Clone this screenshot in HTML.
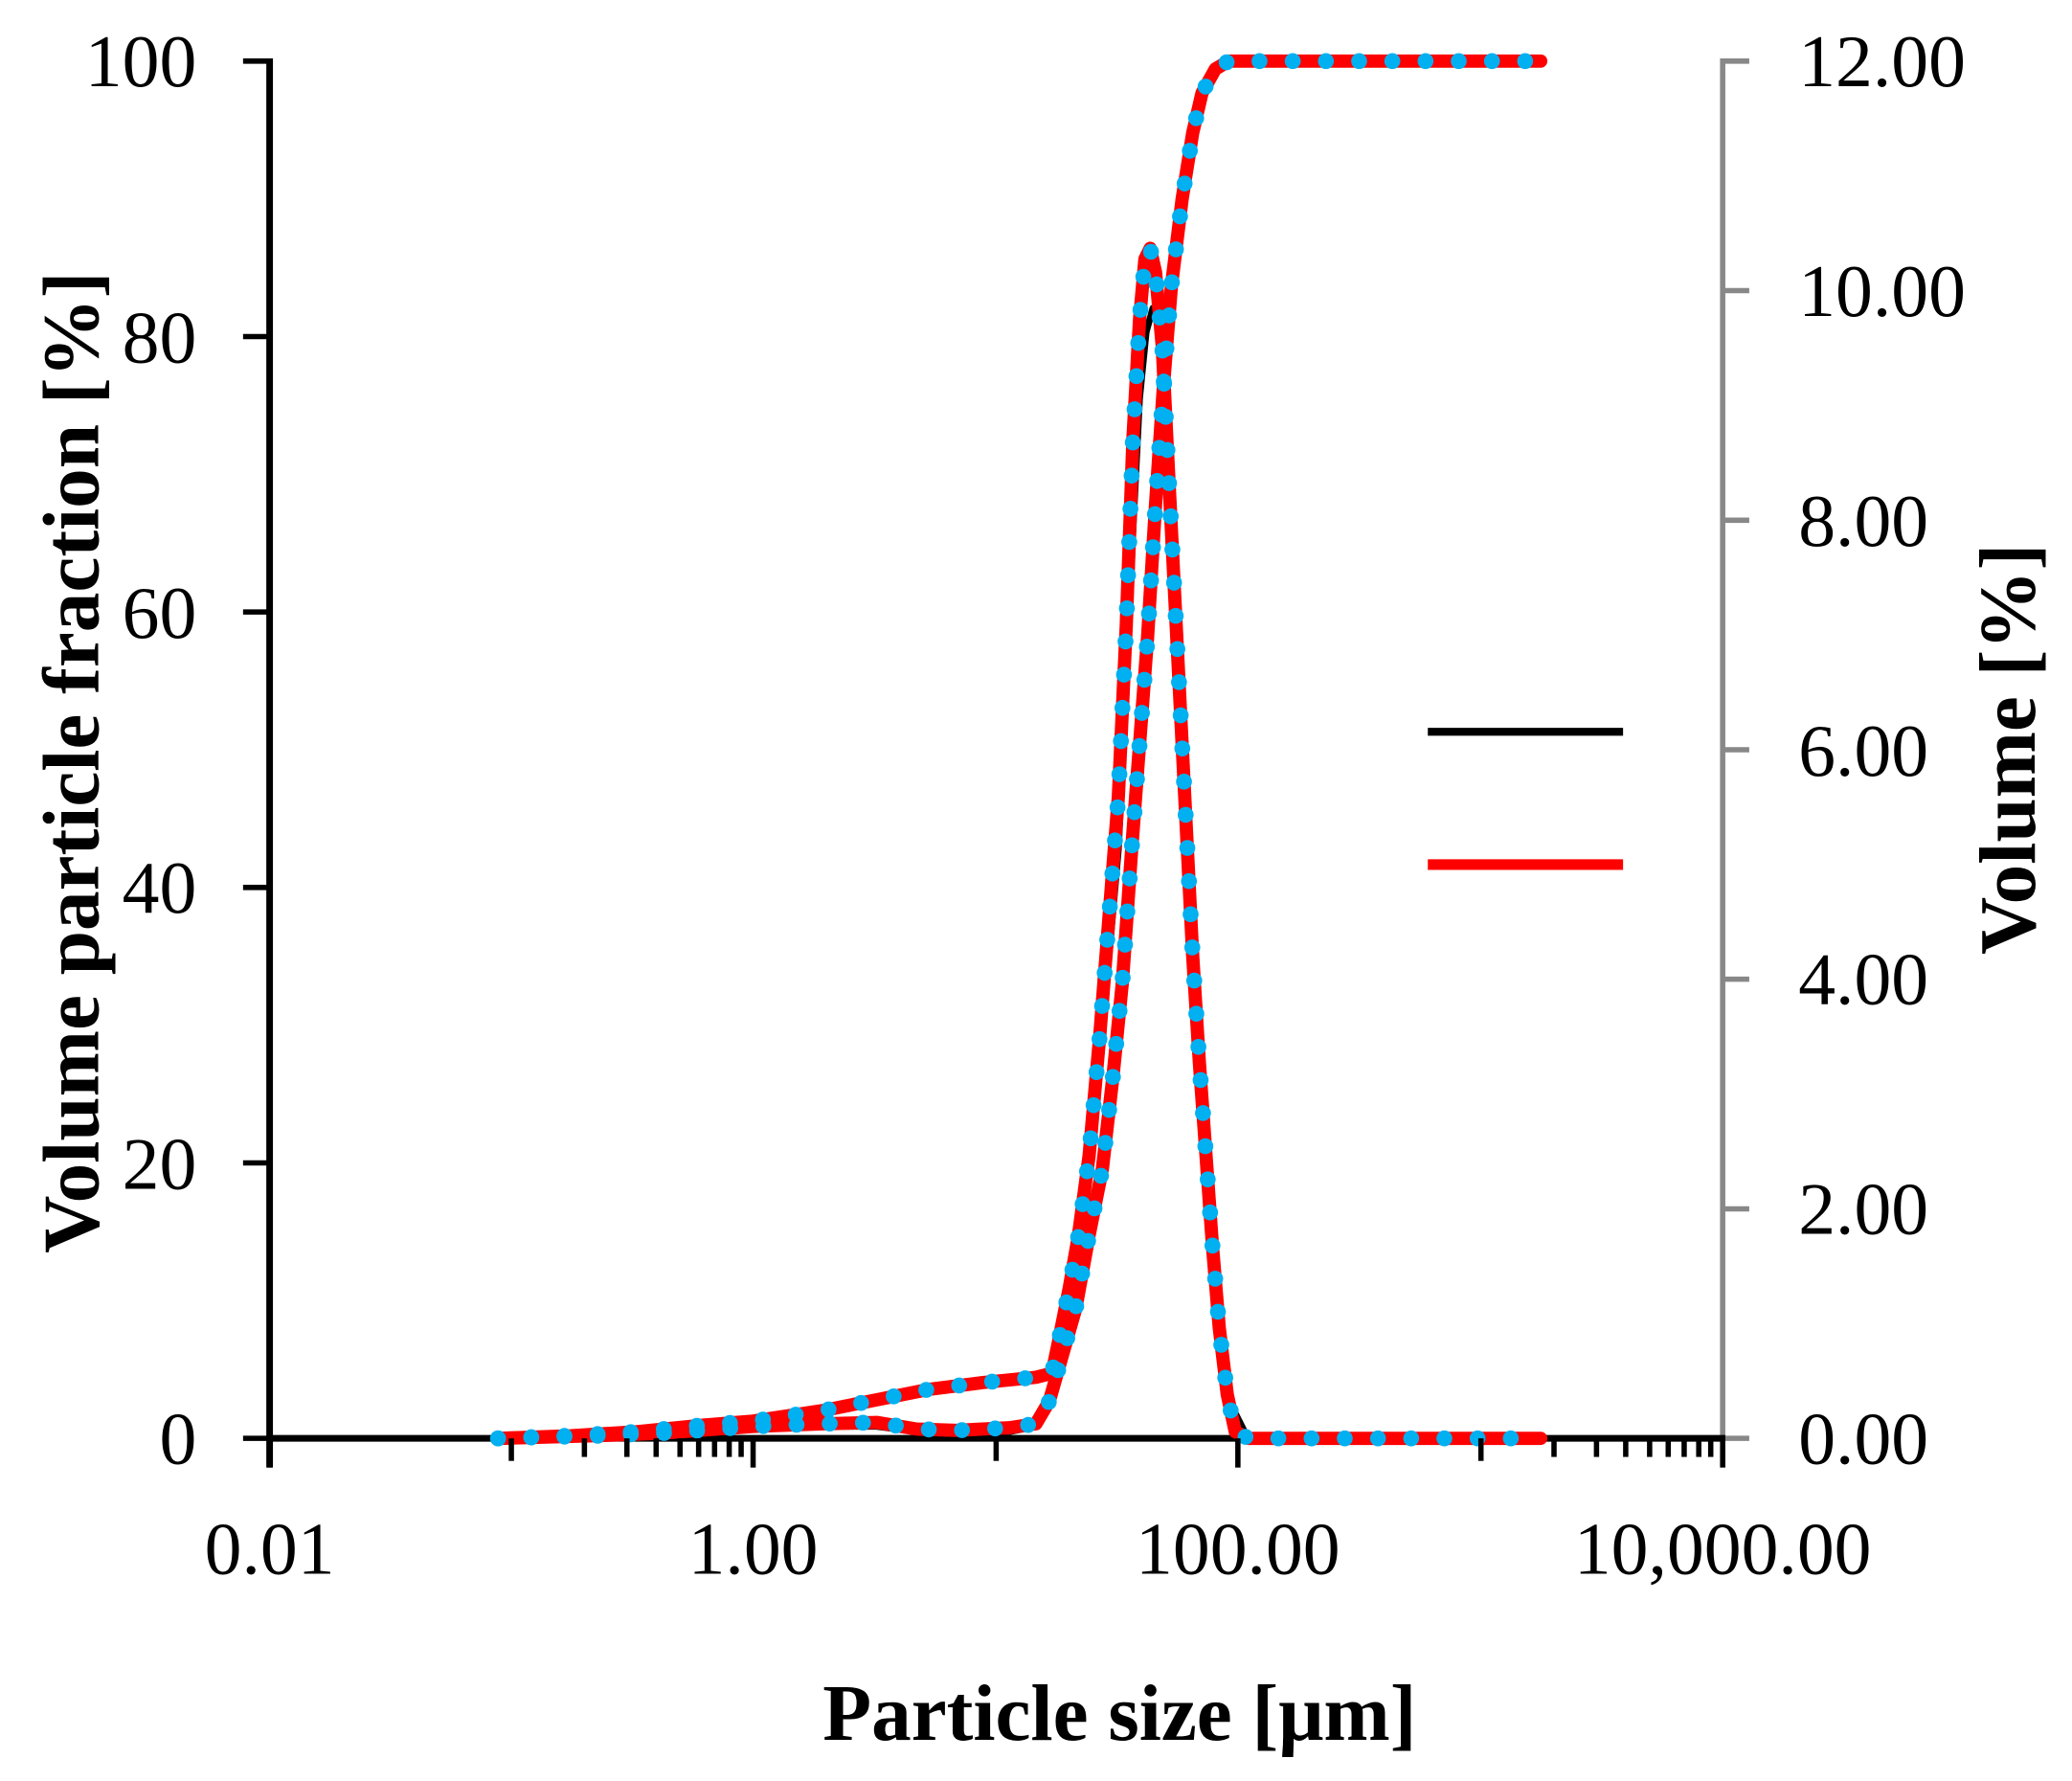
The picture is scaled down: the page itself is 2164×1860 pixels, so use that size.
<!DOCTYPE html>
<html><head><meta charset="utf-8"><style>html,body{margin:0;padding:0;background:#fff}svg{display:block}</style></head>
<body>
<svg width="2164" height="1860" viewBox="0 0 1560 1341" preserveAspectRatio="none" xmlns="http://www.w3.org/2000/svg" font-family="'Liberation Serif', serif">
<rect width="1560" height="1341" fill="#fff"/>
<g stroke="#000" stroke-width="4">
<line x1="183" y1="46" x2="203" y2="46"/><line x1="183" y1="253.4" x2="203" y2="253.4"/><line x1="183" y1="460.8" x2="203" y2="460.8"/><line x1="183" y1="668.2" x2="203" y2="668.2"/><line x1="183" y1="875.6" x2="203" y2="875.6"/><line x1="183" y1="1083" x2="203" y2="1083"/>
</g>
<g stroke="#888" stroke-width="4">
<line x1="1297" y1="44" x2="1297" y2="1085"/>
<line x1="1297" y1="46" x2="1317" y2="46"/><line x1="1297" y1="218.8" x2="1317" y2="218.8"/><line x1="1297" y1="391.7" x2="1317" y2="391.7"/><line x1="1297" y1="564.5" x2="1317" y2="564.5"/><line x1="1297" y1="737.3" x2="1317" y2="737.3"/><line x1="1297" y1="910.2" x2="1317" y2="910.2"/><line x1="1297" y1="1083" x2="1317" y2="1083"/>
</g>
<line x1="203" y1="44" x2="203" y2="1105" stroke="#000" stroke-width="5"/>
<line x1="201" y1="1083" x2="1299" y2="1083" stroke="#000" stroke-width="5"/>
<g fill="#000" font-size="56" text-anchor="end">
<text x="148" y="65">100</text><text x="148" y="273">80</text><text x="148" y="480">60</text><text x="148" y="687">40</text><text x="148" y="895">20</text><text x="148" y="1102">0</text>
</g>
<g fill="#000" font-size="56" text-anchor="start">
<text x="1354" y="65">12.00</text><text x="1354" y="238">10.00</text><text x="1354" y="411">8.00</text><text x="1354" y="584">6.00</text><text x="1354" y="756">4.00</text><text x="1354" y="929">2.00</text><text x="1354" y="1102">0.00</text>
</g>
<g fill="#000" font-size="56" text-anchor="middle">
<text x="203" y="1185">0.01</text><text x="567" y="1185">1.00</text><text x="932" y="1185">100.00</text><text x="1297" y="1185">10,000.00</text>
</g>
<text x="843" y="1310" font-size="60" font-weight="bold" text-anchor="middle">Particle size [μm]</text>
<text transform="translate(74,574) rotate(-90)" font-size="60" font-weight="bold" text-anchor="middle">Volume particle fraction [%]</text>
<text transform="translate(1532,564) rotate(-90)" font-size="60" font-weight="bold" text-anchor="middle">Volume [%]</text>
<line x1="1075" y1="551" x2="1222" y2="551" stroke="#000" stroke-width="6"/>
<line x1="1075" y1="651" x2="1222" y2="651" stroke="#f00" stroke-width="8"/>
<g fill="none" stroke-linejoin="round" stroke-linecap="round">
<polyline stroke="#000" stroke-width="5" points="375,1083 430,1081 480,1078 530,1073 567,1070 620,1062 660,1054 700,1046 740,1041 780,1037 792,1034 797,1012 805,975 812,935 820,880 828,800 835,720 842,640 848,520 853,400 858,300 863,250 868,232 873,245 878,300 884,400 890,520 896,660 901,780 906,860 911,930 916,990 922,1040 929,1062 938,1080 945,1083 1160,1083"/>
<polyline stroke="#000" stroke-width="5" points="375,1083 450,1081 500,1079 567,1075 620,1074 660,1074 690,1078 720,1080 760,1078 780,1074 790,1058 800,1022 810,988 820,935 830,885 838,815 845,745 852,645 858,565 864,485 870,385 876,295 882,222 890,160 898,105 905,72 915,52 925,46 1160,46"/>
<polyline stroke="#f00" stroke-width="10" points="375,1083 430,1081 480,1078 530,1073 567,1070 620,1062 660,1054 700,1046 740,1041 780,1037 792,1034 797,1010 805,970 812,930 820,870 828,780 835,690 842,600 848,470 853,330 858,240 862,195 866,187 870,205 875,260 880,360 886,480 892,600 898,720 903,800 908,870 913,940 918,1000 924,1050 930,1078 940,1083 1160,1083"/>
<polyline stroke="#f00" stroke-width="10" points="375,1083 450,1081 500,1079 567,1074 620,1072 660,1071 690,1076 720,1077 760,1075 780,1072 790,1055 800,1020 810,985 820,930 830,880 838,810 845,740 852,640 858,560 864,480 870,380 876,290 882,215 890,150 898,100 905,70 915,52 925,46 1160,46"/>
<polyline stroke="#00b0f0" stroke-width="12" stroke-dasharray="0 25" points="375,1083 430,1081 480,1078 530,1073 567,1070 620,1062 660,1054 700,1046 740,1041 780,1037 792,1034 797,1010 805,970 812,930 820,870 828,780 835,690 842,600 848,470 853,330 858,240 862,195 866,187 870,205 875,260 880,360 886,480 892,600 898,720 903,800 908,870 913,940 918,1000 924,1050 930,1078 940,1083 1160,1083"/>
<polyline stroke="#00b0f0" stroke-width="12" stroke-dasharray="0 25" points="375,1083 450,1081 500,1079 567,1074 620,1072 660,1071 690,1076 720,1077 760,1075 780,1072 790,1055 800,1020 810,985 820,930 830,880 838,810 845,740 852,640 858,560 864,480 870,380 876,290 882,215 890,150 898,100 905,70 915,52 925,46 1160,46"/>
</g>
<g stroke="#000" stroke-width="4">
<line x1="203" y1="1083" x2="203" y2="1105"/><line x1="385" y1="1083" x2="385" y2="1100"/><line x1="567" y1="1083" x2="567" y2="1105"/><line x1="750" y1="1083" x2="750" y2="1100"/><line x1="932" y1="1083" x2="932" y2="1105"/><line x1="1115" y1="1083" x2="1115" y2="1100"/><line x1="1297" y1="1083" x2="1297" y2="1105"/>
<line x1="440" y1="1083" x2="440" y2="1097"/><line x1="472" y1="1083" x2="472" y2="1097"/><line x1="494" y1="1083" x2="494" y2="1097"/><line x1="512" y1="1083" x2="512" y2="1097"/><line x1="526" y1="1083" x2="526" y2="1097"/><line x1="538" y1="1083" x2="538" y2="1097"/><line x1="549" y1="1083" x2="549" y2="1097"/><line x1="558" y1="1083" x2="558" y2="1097"/>
<line x1="1170" y1="1083" x2="1170" y2="1097"/><line x1="1202" y1="1083" x2="1202" y2="1097"/><line x1="1224" y1="1083" x2="1224" y2="1097"/><line x1="1242" y1="1083" x2="1242" y2="1097"/><line x1="1256" y1="1083" x2="1256" y2="1097"/><line x1="1268" y1="1083" x2="1268" y2="1097"/><line x1="1279" y1="1083" x2="1279" y2="1097"/><line x1="1288" y1="1083" x2="1288" y2="1097"/>
</g>
</svg>
</body></html>
